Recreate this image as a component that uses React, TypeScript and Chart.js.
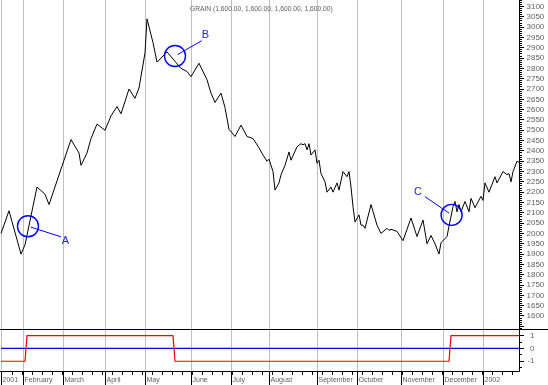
import React, { useEffect, useRef } from 'react';
import { Chart, registerables } from 'chart.js';

Chart.register(...registerables);

// ---- data (trading-day index, close) ----
const priceIdx = [
  0, 4, 10, 12, 18, 22, 24, 35, 39, 40, 43, 45, 48, 52, 55, 58, 60, 64, 67, 69,
  72, 73, 76, 78, 83, 90, 93, 95, 99, 103, 105, 107, 110, 112, 114, 117, 120, 123, 126, 129,
  131, 133, 134, 136, 137, 139, 140, 142, 144, 145, 148, 150, 151, 152, 153, 154, 155, 157, 158, 159,
  160, 162, 163, 165, 166, 168, 169, 171, 173, 174, 175, 176, 177, 179, 180, 181, 182, 185, 188, 190,
  193, 194, 195, 198, 201, 205, 208, 211, 213, 215, 217, 219, 220, 223, 224, 226, 227, 228, 229, 230,
  232, 234, 235, 237, 240, 241, 242, 244, 247, 248, 251, 253, 254, 255, 256, 258, 259,
];
const priceVal = [
  2000, 2110, 1900, 1945, 2225, 2190, 2140, 2455, 2390, 2330, 2390, 2460, 2530, 2500, 2570, 2615, 2580, 2700, 2655, 2705,
  2875, 3040, 2925, 2830, 2880, 2800, 2785, 2760, 2825, 2745, 2680, 2635, 2680, 2610, 2505, 2470, 2525, 2470, 2460, 2415,
  2380, 2350, 2360, 2300, 2210, 2245, 2285, 2330, 2395, 2355, 2420, 2435, 2430, 2435, 2405, 2435, 2380, 2405, 2340, 2355,
  2290, 2250, 2200, 2225, 2200, 2245, 2210, 2300, 2275, 2300, 2225, 2130, 2055, 2090, 2040, 2040, 2025, 2140, 2040, 2000,
  2025, 2015, 2020, 2010, 1965, 2075, 1985, 2065, 1950, 1990, 1950, 1900, 1955, 1985, 2035, 2130, 2155, 2105, 2140, 2105,
  2155, 2105, 2170, 2125, 2180, 2160, 2245, 2200, 2275, 2245, 2300, 2285, 2290, 2250, 2300, 2350, 2345,
];

// signal panel
const signalIdx = [0, 12, 13, 86, 87, 224, 225, 259];
const signalVal = [-1, -1, 1, 1, -1, -1, 1, 1];
const zeroIdx = [0, 259];
const zeroVal = [0, 0];

// x axis months (index of first trading day)
const monthLabels = ['2001', 'February', 'March', 'April', 'May', 'June', 'July', 'August', 'September', 'October', 'November', 'December', '2002'];
const monthIdx = [0, 11, 31, 52, 72, 95, 115, 134, 158, 178, 200, 221, 241];

// right axis labels
const priceTickLabels = [
  1600, 1650, 1700, 1750, 1800, 1850, 1900, 1950, 2000, 2050, 2100, 2150, 2200, 2250, 2300, 2350,
  2400, 2450, 2500, 2550, 2600, 2650, 2700, 2750, 2800, 2850, 2900, 2950, 3000, 3050, 3100,
];
const signalTickLabels = [1, 0, -1];

// annotations
const annIdx = [13.5, 87, 225.3];
const annVal = [2035, 2860, 2090];
const annText = ['A', 'B', 'C'];

const titleText = 'GRAIN (1,600.00, 1,600.00, 1,600.00, 1,600.00)';

// ---- layout / style constants ----
const FONT = '"Liberation Sans", Arial, sans-serif';
const TEXT = '#606060';
const annLayout = [
  { lx: 33, ly: 10.6, tx: 37.5, ty: 14.8 },
  { lx: 26.7, ly: -15.3, tx: 30.5, ty: -21.5 },
  { lx: -26.7, ly: -18.3, tx: -33.7, ty: -22.5 },
];

const chrome = {
  id: 'chrome',
  beforeDatasetsDraw(chart: any) {
    const { ctx, chartArea, scales } = chart;
    const xs = scales.x;
    ctx.save();
    ctx.strokeStyle = '#c0c0c0';
    ctx.lineWidth = 1;
    monthIdx.forEach((i) => {
      const px = Math.floor(xs.getPixelForValue(i)) + 0.5;
      ctx.beginPath();
      ctx.moveTo(px, chartArea.top);
      ctx.lineTo(px, chartArea.bottom);
      ctx.stroke();
    });
    ctx.restore();
  },
  afterDraw(chart: any) {
    const { ctx, chartArea, scales, width, height } = chart;
    const xs = scales.x;
    const ys = scales.y;
    const y2 = scales.y2;
    const axX = Math.floor(chartArea.right) - 0.5;
    const botY = Math.floor(chartArea.bottom) - 0.5;
    ctx.save();
    ctx.strokeStyle = '#000';
    ctx.lineWidth = 1;

    // panel separator
    const sepY = Math.floor(ys.bottom) - 0.5;
    ctx.beginPath();
    ctx.moveTo(0, sepY);
    ctx.lineTo(width, sepY);
    ctx.stroke();

    // right axis line
    ctx.beginPath();
    ctx.moveTo(axX, chartArea.top);
    ctx.lineTo(axX, botY);
    ctx.stroke();

    // bottom axis line
    ctx.beginPath();
    ctx.moveTo(0, botY);
    ctx.lineTo(axX, botY);
    ctx.stroke();

    // price axis ticks
    for (let v = Math.ceil(ys.min / 10) * 10; v <= ys.max; v += 10) {
      const py = Math.floor(ys.getPixelForValue(v)) + 0.5;
      if (py < ys.top || py > ys.bottom - 1) continue;
      const len = v % 50 === 0 ? 4 : 2;
      ctx.beginPath();
      ctx.moveTo(axX, py);
      ctx.lineTo(axX + len + 0.5, py);
      ctx.stroke();
    }
    // signal axis ticks
    for (let v = -1.5; v <= 1; v += 0.5) {
      const py = Math.floor(y2.getPixelForValue(v)) + 0.5;
      const len = Number.isInteger(v) ? 4 : 2;
      ctx.beginPath();
      ctx.moveTo(axX, py);
      ctx.lineTo(axX + len + 0.5, py);
      ctx.stroke();
    }

    // x ticks: months (long) and weekly (short)
    monthIdx.forEach((i) => {
      const px = Math.floor(xs.getPixelForValue(i)) + 0.5;
      ctx.beginPath();
      ctx.moveTo(px, botY);
      ctx.lineTo(px, height);
      ctx.stroke();
    });
    for (let i = 5.5; i < xs.max; i += 5) {
      const px = Math.floor(xs.getPixelForValue(i)) + 0.5;
      ctx.beginPath();
      ctx.moveTo(px, botY);
      ctx.lineTo(px, botY + 3.5);
      ctx.stroke();
    }

    // labels
    ctx.fillStyle = TEXT;
    ctx.font = `8px ${FONT}`;
    ctx.textAlign = 'left';
    ctx.textBaseline = 'middle';
    priceTickLabels.forEach((v) => {
      ctx.fillText(String(v), axX + 7, ys.getPixelForValue(v));
    });
    ctx.textAlign = 'right';
    signalTickLabels.forEach((v) => {
      ctx.fillText(String(v), axX + 15, y2.getPixelForValue(v));
    });

    ctx.font = `7px ${FONT}`;
    ctx.textAlign = 'left';
    ctx.textBaseline = 'alphabetic';
    monthLabels.forEach((t, k) => {
      const px = Math.floor(xs.getPixelForValue(monthIdx[k]));
      ctx.fillText(t, px + 1.5, botY + 10.5);
    });

    // title
    ctx.font = `6.7px ${FONT}`;
    ctx.textAlign = 'left';
    ctx.fillText(titleText, 190, 11);

    // annotations
    ctx.strokeStyle = '#0000ff';
    ctx.fillStyle = '#2020ff';
    annIdx.forEach((i, k) => {
      const cx = xs.getPixelForValue(i);
      const cy = ys.getPixelForValue(annVal[k]);
      const L = annLayout[k];
      ctx.lineWidth = 1.4;
      ctx.beginPath();
      ctx.arc(cx, cy, 10.5, 0, Math.PI * 2);
      ctx.stroke();
      ctx.lineWidth = 1;
      const d = Math.hypot(L.lx, L.ly);
      ctx.beginPath();
      ctx.moveTo(cx + (L.lx / d) * 3, cy + (L.ly / d) * 3);
      ctx.lineTo(cx + L.lx, cy + L.ly);
      ctx.stroke();
      ctx.font = `11px ${FONT}`;
      ctx.textAlign = 'center';
      ctx.textBaseline = 'middle';
      ctx.fillText(annText[k], cx + L.tx, cy + L.ty);
    });
    ctx.restore();
  },
};

export default function App() {
  const ref = useRef<HTMLCanvasElement | null>(null);
  useEffect(() => {
    const canvas = ref.current;
    if (!canvas) return;
    const chart = new Chart(canvas, {
      type: 'line',
      data: {
        datasets: [
          {
            data: priceIdx.map((x, k) => ({ x, y: priceVal[k] })),
            borderColor: '#000000',
            borderWidth: 1,
            pointRadius: 0,
            tension: 0,
            yAxisID: 'y',
          },
          {
            data: signalIdx.map((x, k) => ({ x, y: signalVal[k] })),
            borderColor: '#ff0000',
            borderWidth: 1.2,
            pointRadius: 0,
            tension: 0,
            yAxisID: 'y2',
          },
          {
            data: zeroIdx.map((x, k) => ({ x, y: zeroVal[k] })),
            borderColor: '#0000ff',
            borderWidth: 1.2,
            pointRadius: 0,
            tension: 0,
            yAxisID: 'y2',
          },
        ],
      },
      options: {
        animation: false,
        responsive: false,
        devicePixelRatio: 1,
        layout: { padding: 0 },
        events: [],
        plugins: {
          legend: { display: false },
          tooltip: { enabled: false },
          title: { display: false },
        },
        scales: {
          x: {
            type: 'linear',
            min: -0.5,
            max: 259.5,
            grid: { display: false },
            border: { display: false },
            ticks: { display: false },
            afterFit: (s: any) => { s.height = 13; },
          },
          y: {
            type: 'linear',
            position: 'right',
            min: 1532,
            max: 3131.5,
            stack: 'panels',
            stackWeight: 330,
            grid: { display: false },
            border: { display: false },
            ticks: { display: false },
            afterFit: (s: any) => { s.width = 28; },
          },
          y2: {
            type: 'linear',
            position: 'right',
            min: -1.84,
            max: 1.445,
            stack: 'panels',
            stackWeight: 42,
            grid: { display: false },
            border: { display: false },
            ticks: { display: false },
            afterFit: (s: any) => { s.width = 28; },
          },
        },
      } as any,
      plugins: [chrome],
    });
    return () => chart.destroy();
  }, []);
  return (
    <div style={{ position: 'absolute', left: 0, top: 0, width: 548, height: 385, background: '#fff' }}>
      <canvas ref={ref} width={548} height={385} style={{ display: 'block' }} />
    </div>
  );
}
